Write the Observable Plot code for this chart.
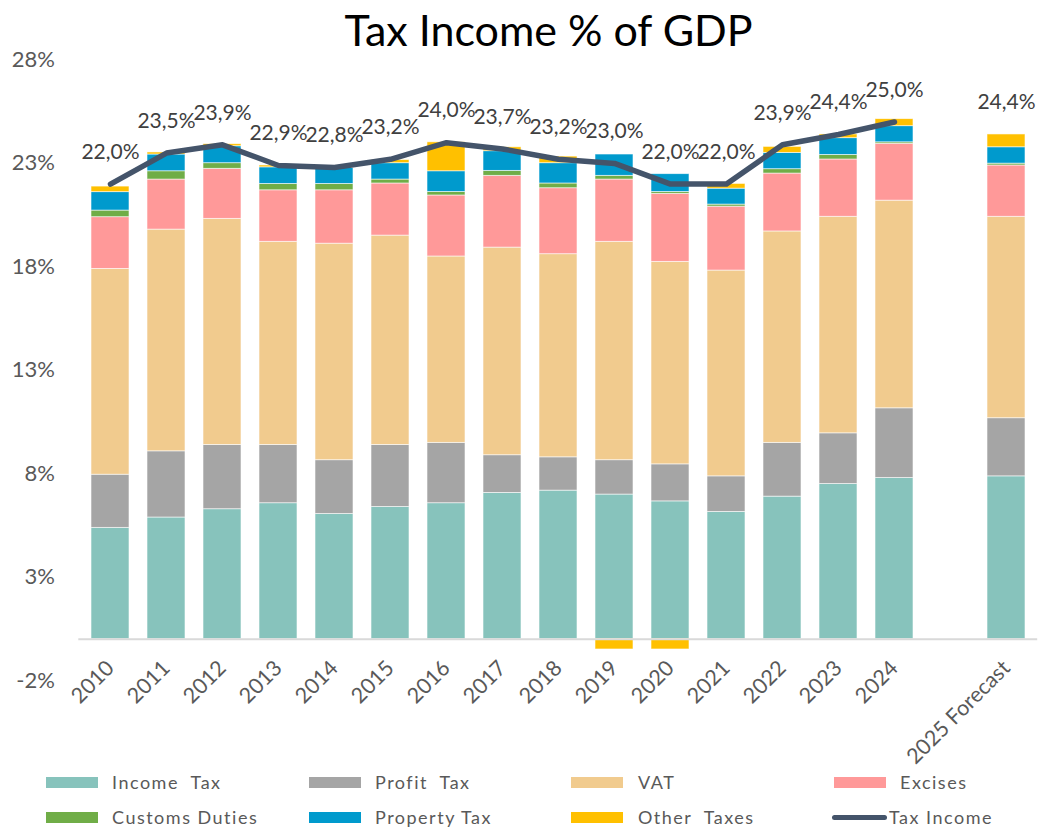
<!DOCTYPE html>
<html>
<head>
<meta charset="utf-8">
<script src="https://cdn.jsdelivr.net/npm/d3@7"></script>
<script src="https://cdn.jsdelivr.net/npm/@observablehq/plot@0.6"></script>
<style>
  html, body { margin: 0; padding: 0; background: #fff; }
  body { width: 1043px; height: 829px; position: relative; overflow: hidden; font-family: Lato, "Open Sans", sans-serif; }
  #title { position: absolute; left: 27px; top: 0; width: 1043px; height: 60px; line-height: 60px; text-align: center; font-size: 43px; color: #000; z-index: 2; }
  #chart { position: absolute; left: 0; top: 40px; z-index: 1; }
  #legend { position: absolute; left: 0; top: 0; z-index: 3; }
  .lg { position: absolute; font-size: 18px; letter-spacing: 1.5px; color: #595959; line-height: 20px; white-space: pre; }
  .sw { position: absolute; width: 52px; height: 11px; }
</style>
</head>
<body>
<div id="title">Tax Income % of GDP</div>
<div id="chart"></div>
<div id="legend"></div>
<script>
const categories = ["2010","2011","2012","2013","2014","2015","2016","2017","2018","2019","2020","2021","2022","2023","2024","2025 Forecast"];
const xDomain = ["2010","2011","2012","2013","2014","2015","2016","2017","2018","2019","2020","2021","2022","2023","2024","","2025 Forecast"];
const seriesNames = ["Income Tax","Profit Tax","VAT","Excises","Customs Duties","Property Tax","Other Taxes"];
const seriesColors = ["#87C3BC","#A5A5A5","#F1CB8E","#FF9999","#70AD47","#009ACD","#FFC000"];
const incomeTax = [5.38,5.88,6.28,6.57,6.05,6.39,6.57,7.07,7.18,6.99,6.66,6.15,6.89,7.50,7.79,7.87];
const profitTax = [2.57,3.20,3.11,2.82,2.60,3.00,2.92,1.82,1.61,1.66,1.79,1.72,2.60,2.45,3.37,2.81];
const vat       = [9.95,10.72,10.93,9.82,10.47,10.12,9.01,10.04,9.82,10.56,9.79,9.95,10.22,10.47,10.04,9.74];
const excises   = [2.50,2.42,2.42,2.49,2.58,2.52,2.95,3.47,3.19,3.01,3.29,3.09,2.80,2.77,2.75,2.48];
const customs   = [0.32,0.40,0.27,0.31,0.31,0.19,0.17,0.24,0.23,0.18,0.09,0.10,0.21,0.22,0.07,0.09];
const property  = [0.89,0.81,0.82,0.80,0.77,0.79,1.00,0.95,0.98,1.03,0.86,0.77,0.79,0.81,0.78,0.79];
const otherTaxes= [0.27,0.10,0.10,0.09,0.02,0.15,1.40,0.19,0.32,-0.50,-0.50,0.23,0.29,0.18,0.34,0.62];
const taxIncome = [22.0,23.5,23.9,22.9,22.8,23.2,24.0,23.7,23.2,23.0,22.0,22.0,23.9,24.4,25.0,24.4];
const yTicks = [-2,3,8,13,18,23,28];

const seriesValues = [incomeTax, profitTax, vat, excises, customs, property, otherTaxes];
const barData = [];
seriesNames.forEach((s, i) => {
  categories.forEach((c, j) => barData.push({cat: c, series: s, value: seriesValues[i][j]}));
});
const totals = categories.map((c, j) => ({cat: c, value: taxIncome[j]}));
const lineData = totals.filter(d => d.cat !== "2025 Forecast");

const chart = Plot.plot({
  width: 1043,
  height: 740,
  marginTop: 19.5,
  marginBottom: 100,
  marginLeft: 78.3,
  marginRight: 5.8,
  style: {fontFamily: "Lato, 'Open Sans', sans-serif", color: "#595959", background: "transparent"},
  x: {domain: xDomain, paddingInner: 0.33, paddingOuter: 0.165},
  y: {domain: [-2, 28]},
  color: {domain: seriesNames, range: seriesColors},
  marks: [
    Plot.axisY({ticks: yTicks, tickFormat: d => d + "%", label: null, tickSize: 0, tickPadding: 24, fontSize: 22}),
    Plot.axisX({label: null, tickSize: 0, tickRotate: -45, tickPadding: 4, dy: -20, fontSize: 21.5}),
    Plot.barY(barData, Plot.stackY({x: "cat", y: "value", fill: "series", stroke: "white", strokeWidth: 0.8, strokeOpacity: 0.7})),
    Plot.ruleY([0], {stroke: "#D9D9D9", strokeWidth: 2}),
    Plot.line(lineData, {x: "cat", y: "value", stroke: "#44546A", strokeWidth: 5.5, strokeLinejoin: "round", strokeLinecap: "round"}),
    Plot.text(totals, {x: "cat", y: "value", text: d => d.value.toFixed(1).replace(".", ",") + "%", dy: -32, fontSize: 21, fill: "#404040"})
  ]
});
document.getElementById("chart").appendChild(chart);

const legendItems = [
  {name: "Income  Tax", color: seriesColors[0], sx: 46, tx: 112, y: 782},
  {name: "Profit  Tax", color: seriesColors[1], sx: 309, tx: 375, y: 782},
  {name: "VAT", color: seriesColors[2], sx: 571, tx: 638, y: 782},
  {name: "Excises", color: seriesColors[3], sx: 834, tx: 900, y: 782},
  {name: "Customs Duties", color: seriesColors[4], sx: 46, tx: 112, y: 817},
  {name: "Property Tax", color: seriesColors[5], sx: 309, tx: 375, y: 817},
  {name: "Other  Taxes", color: seriesColors[6], sx: 571, tx: 638, y: 817}
];
const lg = document.getElementById("legend");
legendItems.forEach(it => {
  const sw = document.createElement("div");
  sw.className = "sw";
  sw.style.left = it.sx + "px";
  sw.style.top = (it.y - 5.5) + "px";
  sw.style.background = it.color;
  lg.appendChild(sw);
  const t = document.createElement("div");
  t.className = "lg";
  t.style.left = it.tx + "px";
  t.style.top = (it.y - 10) + "px";
  t.textContent = it.name;
  lg.appendChild(t);
});
const ln = document.createElement("div");
ln.style.cssText = "position:absolute;left:832px;top:814.5px;width:55px;height:5px;border-radius:3px;background:#44546A";
lg.appendChild(ln);
const lt = document.createElement("div");
lt.className = "lg";
lt.style.left = "889px";
lt.style.top = "807px";
lt.textContent = "Tax Income";
lg.appendChild(lt);
</script>
</body>
</html>
